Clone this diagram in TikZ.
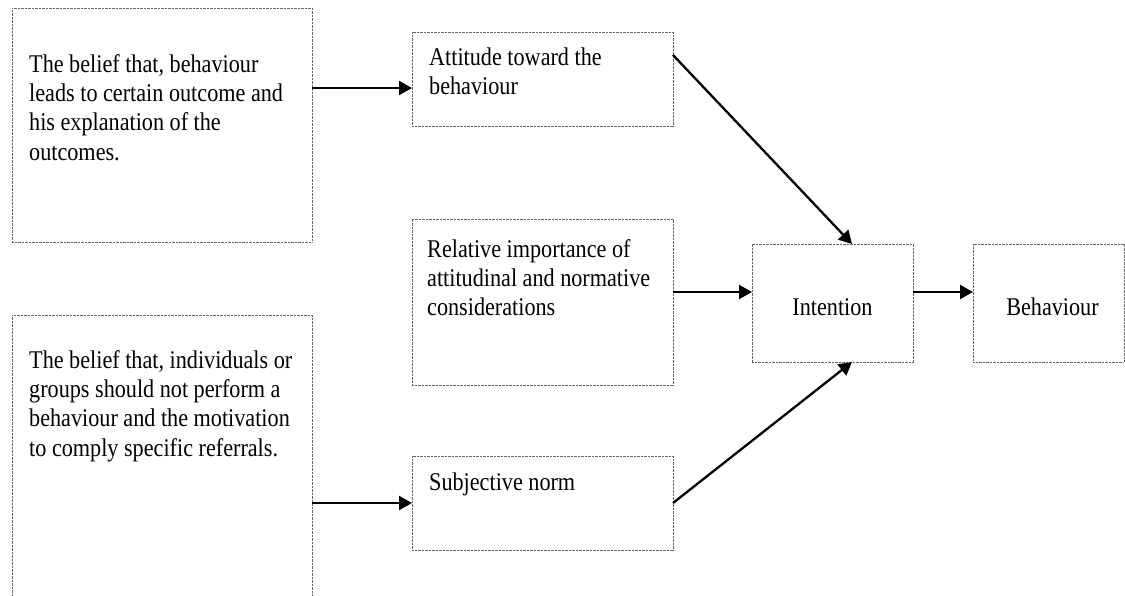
\documentclass[tikz,border=0pt]{standalone}
\usepackage{fontspec}
\setmainfont{Liberation Serif}[FakeStretch=0.87]
\usetikzlibrary{arrows.meta}
\begin{document}
\begin{tikzpicture}[x=1pt,y=-1pt,
  box/.style={draw=black!60,line width=0.7pt,dash pattern=on 0.9pt off 0.5pt,
    anchor=north west,inner sep=0pt,outer sep=0pt},
  txt/.style={anchor=north west,inner sep=0pt,align=left,
    font=\fontsize{25.5}{29.3}\selectfont},
  ctxt/.style={anchor=base,inner sep=0pt,font=\fontsize{25.5}{29.3}\selectfont},
  arr/.style={line width=2.3pt,-{Triangle[length=13pt,width=14pt]}}]
\useasboundingbox (0,0) rectangle (1125,595);
\clip (0,0) rectangle (1125,595);

% boxes
\node[box,minimum width=300pt,minimum height=234pt] (b1) at (12,8) {};
\node[box,minimum width=300pt,minimum height=300pt] (b2) at (12,315) {};
\node[box,minimum width=261pt,minimum height=94pt] (att) at (412,32) {};
\node[box,minimum width=261pt,minimum height=166pt] (rel) at (412,219) {};
\node[box,minimum width=261pt,minimum height=94pt] (subj) at (412,456) {};
\node[box,minimum width=161pt,minimum height=118pt] (intn) at (752,244) {};
\node[box,minimum width=151pt,minimum height=118pt] (beh) at (973,244) {};

% texts
\node[txt] (t1) at (29,51.5) {\strut The belief that, behaviour\\leads to certain outcome and\\his explanation of the\\outcomes.};
\node[txt] (t2) at (29,347.5) {\strut The belief that, individuals or\\groups should not perform a\\behaviour and the motivation\\to comply specific referrals.};
\node[txt] (tatt) at (429,44.5) {\strut Attitude toward the\\behaviour};
\node[txt] (trel) at (427,236.5) {\strut Relative importance of\\attitudinal and normative\\considerations};
\node[txt] (tsubj) at (429,469.5) {\strut Subjective norm};
\node[ctxt] (tint) at (832.5,315) {Intention};
\node[ctxt] (tbeh) at (1052.5,315) {Behaviour};

% connector levels
\coordinate (r1) at (0,88);
\coordinate (r3) at (0,292);

% connectors
\draw[arr] (b1.east |- r1) -- (att.west |- r1);
\draw[arr] (b2.east |- subj.west) -- (subj.west);
\draw[arr] ([yshift=-23pt]att.north east) -- ([xshift=19.5pt]intn.north);
\draw[arr] (rel.east |- r3) -- (intn.west |- r3);
\draw[arr] (subj.east) -- ([xshift=19.5pt]intn.south);
\draw[arr] (intn.east |- r3) -- (beh.west |- r3);
\end{tikzpicture}
\end{document}
